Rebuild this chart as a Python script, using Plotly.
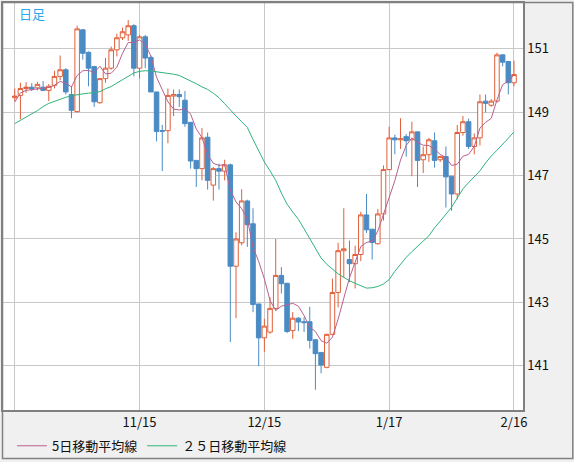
import pandas as pd
import plotly.graph_objects as go

# Trading days (weekdays, New Year's Day closed)
dates = [d.strftime("%Y-%m-%d") for d in pd.bdate_range("2023-10-16", "2024-02-16") if d.strftime("%m-%d") != "01-01"]

opens = [149.46, 149.53, 149.75, 149.79, 149.77, 149.79, 149.69, 149.85, 150.13, 150.34,
         149.56, 149.02, 151.60, 150.89, 150.44, 149.30, 150.06, 150.39, 150.97, 151.35,
         151.44, 151.73, 150.39, 151.38, 150.73, 149.64, 148.42, 148.42, 149.51, 149.56,
         149.38, 148.68, 147.48, 147.22, 148.21, 146.70, 147.22, 147.14, 147.34, 144.14,
         144.88, 146.20, 145.48, 142.95, 141.88, 142.06, 142.81, 143.85, 143.60, 142.11,
         142.50, 142.39, 142.39, 141.82, 141.42, 140.95, 141.99, 143.31, 144.63, 144.35,
         144.22, 144.51, 145.76, 145.31, 144.85, 145.79, 147.19, 148.19, 148.13, 148.23,
         148.13, 148.38, 147.50, 147.66, 148.10, 147.50, 147.60, 146.98, 146.42, 148.36,
         148.70, 147.92, 148.19, 149.35, 149.22, 149.35, 150.81, 150.60, 149.93]
highs = [149.75, 149.93, 149.95, 149.92, 149.96, 149.98, 149.89, 150.31, 150.79, 150.39,
         149.82, 151.73, 151.62, 150.92, 150.44, 150.07, 150.71, 151.07, 151.48, 151.67,
         151.91, 151.78, 151.44, 151.44, 150.79, 149.64, 148.60, 149.75, 149.72, 149.72,
         149.67, 148.68, 147.48, 148.50, 148.36, 147.27, 147.38, 147.50, 147.38, 145.21,
         146.57, 146.24, 145.97, 142.95, 142.48, 143.16, 145.00, 144.11, 143.62, 142.69,
         142.53, 142.53, 142.86, 141.82, 141.42, 142.01, 143.75, 144.88, 145.97, 144.95,
         144.79, 145.86, 146.42, 145.31, 145.94, 147.32, 148.54, 148.29, 148.81, 148.31,
         148.70, 148.38, 147.92, 148.19, 148.36, 147.63, 147.92, 146.98, 148.60, 148.88,
         148.80, 148.33, 149.56, 149.56, 149.41, 150.88, 150.83, 150.60, 150.63]
lows = [149.35, 148.78, 149.61, 149.67, 149.69, 149.67, 149.35, 149.75, 150.01, 149.56,
        148.81, 148.99, 150.66, 149.82, 149.17, 149.27, 149.93, 150.34, 150.76, 151.28,
        151.25, 150.13, 150.06, 150.39, 149.64, 148.08, 147.14, 148.02, 148.88, 149.17,
        148.54, 147.22, 146.64, 146.85, 146.56, 146.21, 146.56, 146.85, 141.75, 142.50,
        144.80, 144.75, 142.69, 140.99, 141.44, 142.01, 142.74, 143.28, 142.03, 141.85,
        142.09, 142.06, 141.54, 140.24, 140.76, 140.92, 141.96, 142.84, 143.78, 143.64,
        143.44, 144.30, 145.19, 144.35, 144.82, 145.58, 147.17, 147.67, 147.84, 147.60,
        146.98, 146.64, 147.08, 147.43, 147.25, 147.43, 145.99, 145.89, 146.25, 148.26,
        147.84, 147.67, 147.95, 148.99, 149.17, 149.30, 150.45, 149.56, 149.82]
closes = [149.51, 149.75, 149.79, 149.74, 149.88, 149.69, 149.82, 150.13, 150.34, 149.64,
          149.06, 151.63, 150.86, 150.39, 149.33, 150.06, 150.39, 150.97, 151.35, 151.54,
          151.73, 150.39, 151.38, 150.71, 149.64, 148.39, 148.40, 149.53, 149.56, 149.49,
          148.64, 147.46, 147.22, 148.19, 146.85, 147.22, 147.14, 147.34, 144.14, 145.00,
          146.20, 145.45, 142.93, 141.88, 142.25, 142.81, 143.85, 143.59, 142.08, 142.50,
          142.38, 142.36, 141.80, 141.38, 141.02, 141.99, 143.31, 144.63, 144.69, 144.22,
          144.51, 145.76, 145.29, 144.89, 145.79, 147.19, 148.19, 148.13, 148.16, 148.10,
          148.38, 147.48, 147.66, 148.13, 147.48, 147.60, 146.96, 146.42, 148.36, 148.70,
          147.92, 148.19, 149.33, 149.28, 149.35, 150.81, 150.58, 149.93, 150.19]

ma5 = [149.32, 149.61, 149.69, 149.71, 149.73, 149.77, 149.78, 149.85, 149.97, 149.92,
       149.80, 150.16, 150.31, 150.32, 150.25, 150.45, 150.21, 150.23, 150.42, 150.86,
       151.20, 151.20, 151.28, 151.15, 150.77, 150.10, 149.70, 149.33, 149.10, 149.07,
       149.12, 148.94, 148.47, 148.20, 147.67, 147.39, 147.32, 147.35, 146.54, 146.17,
       145.96, 145.63, 144.74, 144.29, 143.74, 143.06, 142.74, 142.88, 142.92, 142.97,
       142.88, 142.58, 142.22, 142.08, 141.79, 141.71, 141.90, 142.47, 143.13, 143.77,
       144.27, 144.76, 144.89, 144.93, 145.25, 145.78, 146.27, 146.84, 147.49, 147.95,
       148.19, 148.05, 147.96, 147.95, 147.83, 147.67, 147.57, 147.32, 147.36, 147.61,
       147.67, 147.92, 148.50, 148.68, 148.81, 149.39, 149.87, 149.99, 150.17]
ma25 = [148.64, 148.75, 148.86, 148.95, 149.05, 149.18, 149.28, 149.35, 149.41, 149.47,
        149.52, 149.56, 149.58, 149.60, 149.63, 149.65, 149.74, 149.81, 149.92, 150.02,
        150.13, 150.24, 150.29, 150.31, 150.30, 150.28, 150.26, 150.23, 150.20, 150.16,
        150.08, 149.98, 149.90, 149.80, 149.72, 149.60, 149.46, 149.27, 149.06, 148.88,
        148.70, 148.52, 148.14, 147.80, 147.43, 147.15, 146.85, 146.45, 146.10, 145.85,
        145.62, 145.32, 145.01, 144.70, 144.40, 144.20, 144.04, 143.90, 143.79, 143.68,
        143.60, 143.53, 143.45, 143.46, 143.50, 143.58, 143.72, 143.98, 144.22, 144.42,
        144.60, 144.76, 144.92, 145.10, 145.35, 145.55, 145.78, 146.00, 146.30, 146.58,
        146.78, 146.95, 147.15, 147.40, 147.62, 147.80, 147.98, 148.18, 148.38]

tick_dates = ["2023-10-16", "2023-11-15", "2023-12-15", "2024-01-17", "2024-02-16"]
tick_text = ["", "11/15", "12/15", "1/17", "2/16"]
y_ticks = [141, 143, 145, 147, 149, 151]

RED = "#e0603a"
BLUE = "#4a8bc4"
FONT = "Noto Sans CJK JP"

fig = go.Figure()
fig.add_trace(go.Candlestick(
    x=dates, open=opens, high=highs, low=lows, close=closes,
    increasing=dict(line=dict(color=RED, width=1), fillcolor="white"),
    decreasing=dict(line=dict(color=BLUE, width=1), fillcolor=BLUE),
    whiskerwidth=0, showlegend=False, hoverinfo="skip",
))
fig.add_trace(go.Scatter(x=dates, y=ma5, mode="lines", name="5日移動平均線",
                         line=dict(color="#b8608e", width=1)))
fig.add_trace(go.Scatter(x=dates, y=ma25, mode="lines", name="２５日移動平均線",
                         line=dict(color="#2fb47a", width=1)))

W, H = 574, 462
ml, mr, mt, mb = 1, 51, 1, 50
pw, ph = W - ml - mr, H - mt - mb

fig.update_layout(
    width=W, height=H,
    margin=dict(l=ml, r=mr, t=mt, b=mb, pad=0),
    paper_bgcolor="#f0f0f0", plot_bgcolor="white",
    font=dict(family=FONT, size=13, color="#111111"),
    boxgap=0.2, boxgroupgap=0.0,
    showlegend=True,
    legend=dict(orientation="h", x=(10 - ml) / pw, xanchor="left", y=-0.088, yanchor="middle",
                bgcolor="rgba(0,0,0,0)", font=dict(size=13, family=FONT),
                itemwidth=30, tracegroupgap=0),
    xaxis=dict(type="category", range=[-2.07, 89.59], rangeslider=dict(visible=False),
               tickvals=tick_dates, ticktext=tick_text, showgrid=True,
               gridcolor="#c8c8c8", gridwidth=1, ticks="", showline=True,
               linecolor="#808080", linewidth=1.5, mirror=True, zeroline=False,
               tickfont=dict(size=13)),
    yaxis=dict(side="right", range=[139.603, 152.447], tickvals=y_ticks,
               showgrid=True, gridcolor="#c8c8c8", gridwidth=1, ticks="",
               showline=True, linecolor="#808080", linewidth=1.5, mirror=True,
               zeroline=False, tickfont=dict(size=13)),
    annotations=[dict(text="日足", xref="paper", yref="paper",
                      x=(15 - ml) / pw, y=(H - mb - 12) / ph, xanchor="left",
                      yanchor="middle", showarrow=False,
                      font=dict(color="#2aa6ea", size=13, family=FONT))],
    shapes=[dict(type="rect", xref="paper", yref="paper",
                 x0=(0.5 - ml) / pw, x1=(W - 1 - ml) / pw,
                 y0=(H - mb - (H - 1)) / ph, y1=(H - mb - 0.5) / ph,
                 line=dict(color="#808080", width=1.5), layer="above")],
)

fig.write_html("out.html", config={"displayModeBar": False},
               post_script="document.body.style.margin='0px';document.body.style.overflow='hidden';")
